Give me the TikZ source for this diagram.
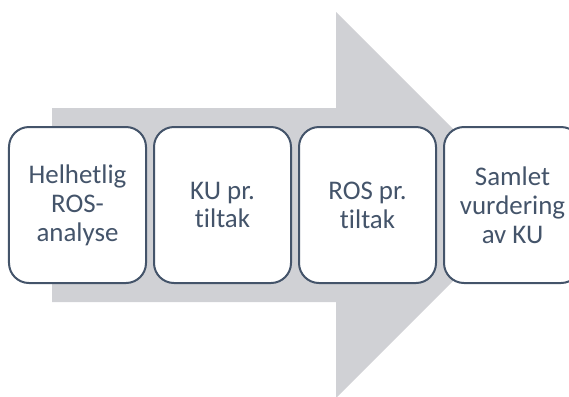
\documentclass[tikz,border=0pt]{standalone}
\usepackage{fontspec}
\setmainfont{Carlito}[Ligatures=NoCommon]
\usepackage{xcolor}
\usetikzlibrary{positioning}
\definecolor{arrowgray}{RGB}{208,209,213}
\definecolor{slate}{RGB}{68,84,106}
\tikzset{
    stepbox/.style={draw=slate, line width=2bp, fill=white, rounded corners=20bp,
        minimum width=137bp, minimum height=156bp, align=center, text=slate,
        font=\fontsize{27}{29}\selectfont},
}

\begin{document}
\begin{tikzpicture}[x=1bp,y=-1bp]
    \useasboundingbox (0,0) rectangle (569,396);
    \clip (0,0) rectangle (569,396);

    % Big arrow in the background
    \fill[arrowgray] (52,108) -- (336,108) -- (336,12) -- (529,205) -- (336,398)
        -- (336,302) -- (52,302) -- cycle;

    % Steps
    \node[stepbox] (helhetlig) at (77.5,205) {Helhetlig\\ROS-\\analyse};
    \node[stepbox, right=6bp of helhetlig] (kutiltak) {KU pr.\\tiltak};
    \node[stepbox, right=6bp of kutiltak] (rostiltak) {ROS pr.\\tiltak};
    \node[stepbox, right=6bp of rostiltak] (samlet) {Samlet\\vurdering\\av KU};
\end{tikzpicture}
\end{document}
